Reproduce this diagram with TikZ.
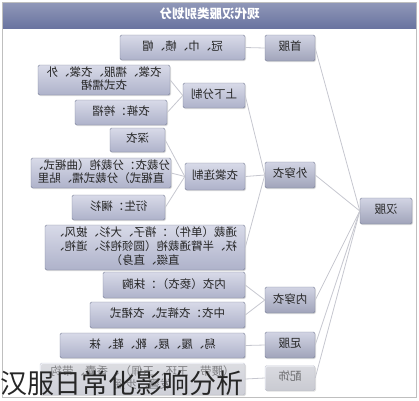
\documentclass[tikz,border=0pt]{standalone}
\usepackage{fontspec}
\newfontfamily\cjk{Noto Sans CJK SC}
\usetikzlibrary{shadows}
\definecolor{barblue}{HTML}{6A74A0}
\definecolor{boxtop}{HTML}{D8DAE8}
\definecolor{boxbot}{HTML}{AEB2CA}
\definecolor{boxline}{HTML}{7A8098}
\definecolor{linkgray}{HTML}{C6C7CF}
% mirrored text, as printed in the picture
\newcommand{\mirtext}[1]{\reflectbox{\begin{tabular}{@{}c@{}}#1\end{tabular}}}

\begin{document}
\begin{tikzpicture}[x=1pt,y=-1pt,
    catbox/.style={draw=boxline,rounded corners=1.5pt,top color=boxtop,bottom color=boxbot,
      drop shadow={opacity=0.25,shadow xshift=1pt,shadow yshift=-1pt},
      inner sep=1pt,font=\cjk\fontsize{11.5}{12.5}\selectfont,text=black!85},
    mainbox/.style={catbox,top color=boxtop!85!boxbot,bottom color=boxbot!92!black},
    link/.style={draw=linkgray,line width=0.8pt}]
  \useasboundingbox (0,0) rectangle (419,400);

  % Frame and title
  \draw[black!25,line width=0.8pt] (2.5,2.5) rectangle (416.5,397);
  \shade[top color=barblue!75!white,bottom color=barblue] (3,3) rectangle (416,28);
  \node[font=\cjk\bfseries\fontsize{12.5}{14}\selectfont,text=white] (title) at (209.5,15.5) {\mirtext{现代汉服类别划分}};

  % Root and first level
  \node[mainbox,minimum width=52,minimum height=26] (hanfu) at (386,211) {\mirtext{汉服}};
  \node[mainbox,minimum width=50,minimum height=26] (shoufu) at (290,48) {\mirtext{首服}};
  \node[mainbox,minimum width=50,minimum height=26] (waichuan) at (290,175) {\mirtext{外穿衣}};
  \node[mainbox,minimum width=50,minimum height=26] (neichuan) at (290,300) {\mirtext{内穿衣}};
  \node[mainbox,minimum width=50,minimum height=26] (zufu) at (290,345) {\mirtext{足服}};
  \node[mainbox,minimum width=50,minimum height=25,opacity=0.35,text opacity=0.6] (peishi) at (290,378) {\mirtext{配饰}};

  % Second level
  \node[catbox,minimum width=62,minimum height=25] (shangxia) at (214,95.5) {\mirtext{上下分制}};
  \node[catbox,minimum width=60,minimum height=27] (lianzhi) at (215,176.5) {\mirtext{衣裳连制}};

  % Leaves
  \node[catbox,minimum width=125,minimum height=25] (guanjin) at (182.5,47.5) {\mirtext{冠、巾、帻、帽}};
  \node[catbox,minimum width=132,minimum height=30] (yishang) at (104,80) {\mirtext{衣裳、襦服、衣裳、外\\衣式襦裙}};
  \node[catbox,minimum width=92,minimum height=25] (yiku) at (121,112.5) {\mirtext{衣裤：袴褶}};
  \node[catbox,minimum width=55,minimum height=24] (shenyi) at (137.5,140) {\mirtext{深衣}};
  \node[catbox,minimum width=128,minimum height=30] (fencai) at (101,173) {\mirtext{分裁衣：分裁袍（曲裾式、\\直裾式）分裁式襦、貼里}};
  \node[catbox,minimum width=93,minimum height=25] (yansheng) at (118.5,207.5) {\mirtext{衍生：襕衫}};
  \node[catbox,minimum width=200,minimum height=45] (tongcai) at (145,247.5) {\mirtext{通裁（单件）：褙子、大衫、披风、\\袄、半臂通裁袍（圆领袍衫、道袍、\\直缀、直身）}};
  \node[catbox,minimum width=142,minimum height=26] (neiyi) at (174,285) {\mirtext{内衣（亵衣）：抹胸}};
  \node[catbox,minimum width=155,minimum height=26] (zhongyi) at (167.5,315) {\mirtext{中衣：衣裤式、衣裙式}};
  \node[catbox,minimum width=185,minimum height=25] (xilv) at (152.5,345.5) {\mirtext{舄、履、屐、靴、鞋、袜}};
  \node[catbox,minimum width=205,minimum height=32,opacity=0.35,text opacity=0.5] (peishiL) at (142.5,379) {\mirtext{（腰带、玉环、玉佩）、香囊、带钩\\发簪、步摇}};

  % Connectors
  \foreach \n in {shoufu,waichuan,neichuan,zufu,peishi}
    \draw[link] (hanfu.west) -- (\n.east);
  \foreach \n in {shangxia,lianzhi,tongcai}
    \draw[link] (waichuan.west) -- (\n.east);
  \foreach \n in {yishang,yiku}
    \draw[link] (shangxia.west) -- (\n.east);
  \foreach \n in {shenyi,fencai,yansheng}
    \draw[link] (lianzhi.west) -- (\n.east);
  \foreach \n in {neiyi,zhongyi}
    \draw[link] (neichuan.west) -- (\n.east);
  \draw[link] (shoufu.west) -- (guanjin.east);
  \draw[link] (zufu.west) -- (xilv.east);
  \draw[link] (peishi.west) -- (peishiL.east);

  % Caption
  \node[anchor=west,inner sep=0pt,font=\cjk\fontsize{27}{30}\selectfont,text=black!85] (caption) at (0,383) {汉服日常化影响分析};
\end{tikzpicture}
\end{document}
